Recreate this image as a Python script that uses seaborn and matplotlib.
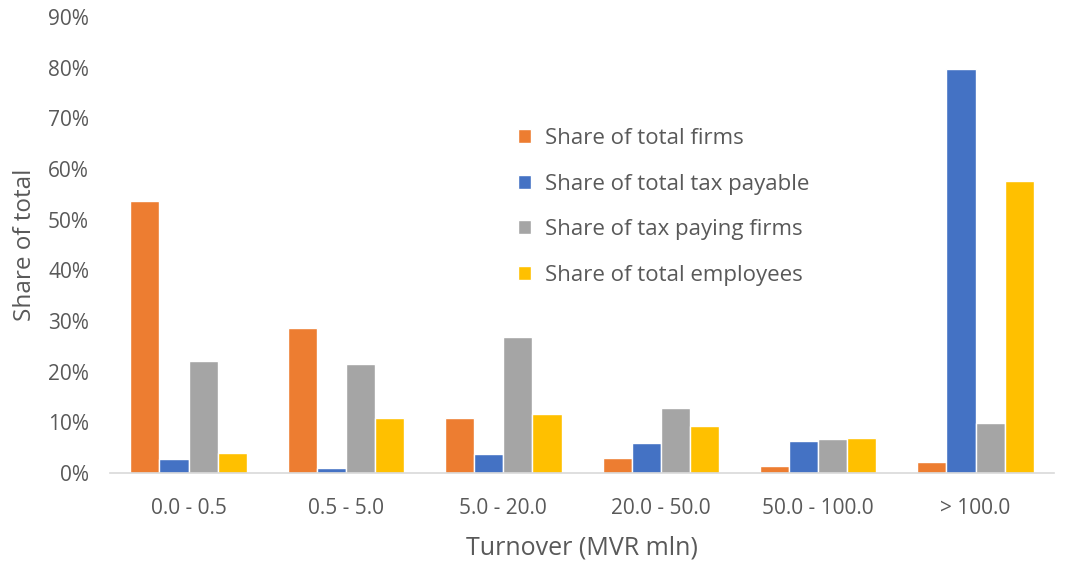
import pandas as pd
import seaborn as sns
import matplotlib.pyplot as plt
from matplotlib.ticker import PercentFormatter
from matplotlib.patches import Patch

CATEGORIES = ["0.0 - 0.5", "0.5 - 5.0", "5.0 - 20.0", "20.0 - 50.0", "50.0 - 100.0", "> 100.0"]
TOTAL_FIRMS = [0.536, 0.286, 0.108, 0.030, 0.014, 0.022]
TAX_PAYABLE = [0.028, 0.010, 0.037, 0.059, 0.063, 0.797]
TAX_PAYING_FIRMS = [0.221, 0.215, 0.268, 0.128, 0.067, 0.099]
TOTAL_EMPLOYEES = [0.039, 0.108, 0.116, 0.093, 0.069, 0.576]

SERIES = {
    "Share of total firms": TOTAL_FIRMS,
    "Share of total tax payable": TAX_PAYABLE,
    "Share of tax paying firms": TAX_PAYING_FIRMS,
    "Share of total employees": TOTAL_EMPLOYEES,
}
COLORS = ["#ED7D31", "#4472C4", "#A5A5A5", "#FFC000"]
TEXT = "#595959"

rows = []
for name, vals in SERIES.items():
    for cat, v in zip(CATEGORIES, vals):
        rows.append({"Turnover": cat, "Series": name, "Share": v})
df = pd.DataFrame(rows)

sns.set_style("white")
plt.rcParams["font.family"] = ["Open Sans", "DejaVu Sans"]

fig = plt.figure(figsize=(10.67, 5.64), dpi=100)
ax = fig.add_axes([0.103, 0.161, 0.885, 0.809])

sns.barplot(
    data=df, x="Turnover", y="Share", hue="Series",
    order=CATEGORIES, hue_order=list(SERIES), palette=COLORS,
    width=0.74, saturation=1, ax=ax, legend=False,
)

ax.set_ylim(0, 0.9)
ax.set_yticks([i / 10 for i in range(10)])
ax.yaxis.set_major_formatter(PercentFormatter(1.0, decimals=0))
ax.set_xlim(-0.5, len(CATEGORIES) - 0.5)

for side in ["top", "right", "left"]:
    ax.spines[side].set_visible(False)
ax.spines["bottom"].set_color("#D9D9D9")
ax.spines["bottom"].set_linewidth(1.2)
ax.tick_params(axis="both", length=0, labelsize=15, colors=TEXT)
ax.tick_params(axis="x", pad=18)
ax.tick_params(axis="y", pad=15)

ax.set_xlabel("Turnover (MVR mln)", fontsize=18, color=TEXT, labelpad=12)
ax.set_ylabel("Share of total", fontsize=17.5, color=TEXT, labelpad=8)

handles = [Patch(facecolor=c, label=n) for n, c in zip(SERIES, COLORS)]
ax.legend(
    handles=handles, loc="upper left", bbox_to_anchor=(0.411, 0.80),
    frameon=False, fontsize=16, labelcolor=TEXT,
    handlelength=0.6, handleheight=0.6, handletextpad=0.6, labelspacing=1.1,
)

fig.savefig("out.png", dpi=100)
